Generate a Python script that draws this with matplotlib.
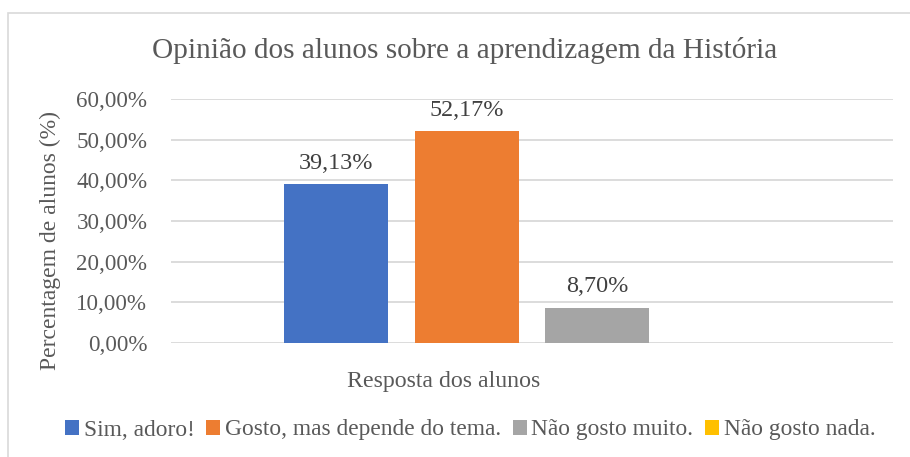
import matplotlib
matplotlib.use("Agg")
import matplotlib.pyplot as plt
from matplotlib.patches import Patch, Rectangle

categorias = ["Sim, adoro!", "Gosto, mas depende do tema.", "Não gosto muito.", "Não gosto nada."]
valores = [39.13, 52.17, 8.70, 0.0]
cores = ["#4472C4", "#ED7D31", "#A5A5A5", "#FFC000"]
yticks = [0, 10, 20, 30, 40, 50, 60]

plt.rcParams['font.family'] = ['Liberation Serif', 'DejaVu Serif']
W, H = 910, 457
fig = plt.figure(figsize=(W / 100, H / 100), dpi=100)

# moldura do gráfico (só borda esquerda e superior visíveis)
fig.patches.append(Rectangle((8 / W, -10 / H), 920 / W, (H - 13 + 10) / H, transform=fig.transFigure,
                             fill=False, edgecolor="#D9D9D9", linewidth=1.2))

ax = fig.add_axes([171 / W, (H - 343) / H, 722 / W, 244 / H])
x = list(range(len(valores)))
ax.bar(x, valores, width=0.794, color=cores, zorder=3)
for xi, v in zip(x[:3], valores[:3]):
    ax.text(xi, v + 2.5, f"{v:.2f}%".replace(".", ","), ha="center", va="bottom",
            fontsize=17.4, color="#404040")

ax.set_xlim(-1.256, 4.256)
ax.set_ylim(0, 60)
ax.set_yticks(yticks)
ax.set_yticklabels([f"{t:.2f}%".replace(".", ",") for t in yticks], fontsize=16.6, color="#595959")
ax.set_xticks([])
ax.tick_params(axis="y", length=0, pad=17)
ax.grid(axis="y", color="#D9D9D9", linewidth=1.3, zorder=0)
for s in ax.spines.values():
    s.set_visible(False)

fig.text(465 / W, 1 - 50 / H, "Opinião dos alunos sobre a aprendizagem da História",
         ha="center", va="center", fontsize=21.1, color="#595959")
fig.text(444 / W, 1 - 382 / H, "Resposta dos alunos", ha="center", va="center",
         fontsize=17.2, color="#595959")
fig.text(50 / W, 1 - 240 / H, "Percentagem de alunos (%)", ha="center", va="center",
         rotation=90, fontsize=17, color="#595959")

handles = [Patch(facecolor=c, edgecolor="none") for c in cores]
leg = fig.legend(handles, categorias, loc="center", bbox_to_anchor=(470 / W, 1 - 430 / H),
                 ncol=4, frameon=False, fontsize=16.8, handlelength=0.6, handleheight=0.6,
                 handletextpad=0.2, columnspacing=0.5, borderpad=0)
for t in leg.get_texts():
    t.set_color("#595959")

fig.savefig("out.png", dpi=100)
